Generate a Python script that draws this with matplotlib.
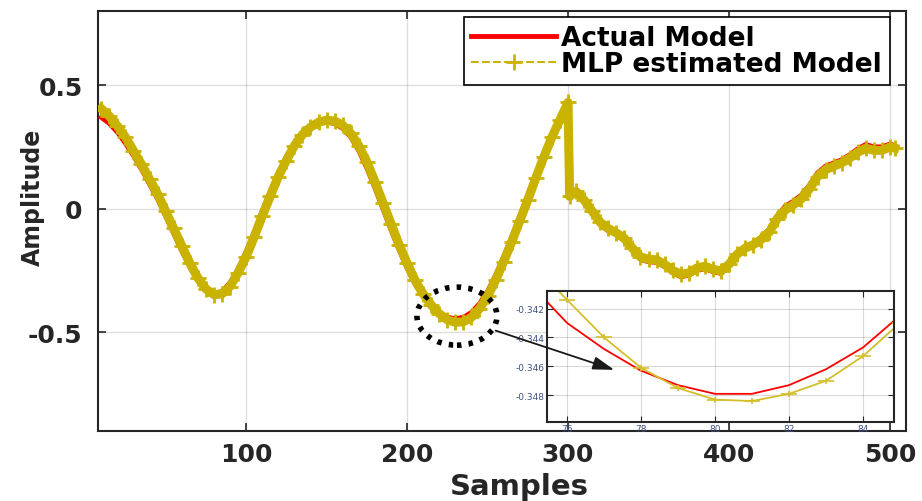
import matplotlib
matplotlib.use('Agg')
import matplotlib.pyplot as plt
from matplotlib.patches import Ellipse
from matplotlib.path import Path

plt.rcParams['font.family'] = 'DejaVu Sans'
plt.rcParams['font.weight'] = 'bold'
plt.rcParams['axes.labelweight'] = 'bold'
plt.rcParams['axes.unicode_minus'] = False

# echantillons (axe x)
echantillons = [10, 15, 20, 25, 30, 35, 40, 45, 50, 55, 60, 65, 70, 75, 80, 85, 90, 95,
                100, 105, 110, 115, 120, 125, 130, 135, 140, 145, 150, 155, 160, 165, 170, 175,
                180, 185, 190, 195, 200, 205, 210, 215, 220, 225, 230, 235, 240, 245, 250, 255,
                260, 265, 270, 275, 280, 285, 290, 295, 300,
                301, 305, 310, 315, 320, 325, 330, 335, 340, 345, 350, 355, 360, 365, 370, 375,
                380, 385, 390, 395, 400, 405, 410, 415, 420, 425, 430, 435, 440, 445, 450, 455,
                460, 465, 470, 475, 480, 485, 490, 495, 500, 503]

# modele reel
modele_reel = [0.37, 0.345, 0.31, 0.265, 0.215, 0.16, 0.10, 0.04, -0.03, -0.10, -0.17, -0.235,
               -0.29, -0.33, -0.345, -0.335, -0.30, -0.245, -0.175, -0.095, -0.01, 0.07, 0.145,
               0.21, 0.265, 0.305, 0.33, 0.345, 0.35, 0.345, 0.325, 0.29, 0.235, 0.165, 0.085,
               0.0, -0.085, -0.165, -0.24, -0.305, -0.355, -0.395, -0.425, -0.44, -0.445, -0.44,
               -0.42, -0.385, -0.335, -0.27, -0.195, -0.115, -0.03, 0.055, 0.14, 0.22, 0.29,
               0.345, 0.39,
               0.085, 0.065, 0.025, -0.02, -0.065, -0.09, -0.105, -0.13, -0.17, -0.205, -0.215,
               -0.217, -0.235, -0.26, -0.275, -0.27, -0.25, -0.243, -0.255, -0.262, -0.235,
               -0.19, -0.16, -0.14, -0.115, -0.083, -0.028, 0.01, 0.03, 0.055, 0.095, 0.145,
               0.172, 0.185, 0.198, 0.218, 0.242, 0.26, 0.25, 0.25, 0.262, 0.255]

# modele estime par le MLP
modele_mlp = [0.405, 0.375, 0.335, 0.29, 0.235, 0.18, 0.12, 0.06, -0.01, -0.08, -0.15, -0.22,
              -0.28, -0.325, -0.348, -0.345, -0.315, -0.26, -0.195, -0.115, -0.03, 0.05, 0.13,
              0.195, 0.255, 0.30, 0.33, 0.35, 0.358, 0.355, 0.338, 0.305, 0.255, 0.19, 0.11,
              0.025, -0.06, -0.145, -0.22, -0.29, -0.345, -0.39, -0.425, -0.45, -0.46, -0.458,
              -0.44, -0.405, -0.355, -0.29, -0.215, -0.135, -0.05, 0.035, 0.125, 0.21, 0.29,
              0.36, 0.43,
              0.05, 0.07, 0.035, -0.01, -0.055, -0.08, -0.098, -0.12, -0.16, -0.195, -0.205,
              -0.207, -0.225, -0.25, -0.265, -0.26, -0.24, -0.233, -0.245, -0.252, -0.225,
              -0.185, -0.16, -0.146, -0.125, -0.095, -0.04, -0.005, 0.016, 0.04, 0.08, 0.13,
              0.158, 0.172, 0.185, 0.205, 0.228, 0.245, 0.236, 0.236, 0.25, 0.245]

# zoom (encart)
zoom_x = [75, 76, 77, 78, 79, 80, 81, 82, 83, 84, 85]
zoom_reel = [-0.3403, -0.3430, -0.3448, -0.3463, -0.3473, -0.3479, -0.3479, -0.3473,
             -0.3462, -0.3447, -0.3425]
zoom_mlp = [-0.3388, -0.3414, -0.3440, -0.3461, -0.3475, -0.3483, -0.3484, -0.3479,
            -0.3470, -0.3453, -0.3430]

ROUGE = '#ff0000'
JAUNE = '#c9b300'
GRIS = '#262626'

fig = plt.figure(figsize=(9.22, 5.02), dpi=100)
ax = fig.add_axes([0.1063, 0.1394, 0.8764, 0.8366])

ax.plot(echantillons, modele_reel, color=ROUGE, lw=3.5, label='Actual Model', zorder=3)
ax.plot(echantillons, modele_mlp, color=JAUNE, lw=6.5, zorder=4)
ax.plot(echantillons, modele_mlp, color=JAUNE, lw=1.5, ls='--', marker='+', ms=11, mew=2,
        label='MLP estimated Model', zorder=5)

ax.set_xlim(8, 510)
ax.set_ylim(-0.9, 0.8)
ax.set_xticks([100, 200, 300, 400, 500])
ax.set_yticks([-0.5, 0, 0.5])
ax.set_yticklabels(['-0.5', '0', '0.5'])
ax.grid(True, color='#000000', alpha=0.13, lw=1)
ax.tick_params(direction='in', top=True, right=True, length=6, width=1.2, colors=GRIS,
               labelsize=18)
ax.tick_params(axis='x', pad=8)
ax.tick_params(axis='y', pad=11)
for s in ax.spines.values():
    s.set_color(GRIS)
    s.set_linewidth(1.5)

ax.set_xlabel('Samples', fontsize=21, fontweight='bold', color=GRIS)
ax.xaxis.set_label_coords(0.521, -0.0976)
ax.set_ylabel('Amplitude', fontsize=17, fontweight='bold', color=GRIS)
ax.yaxis.set_label_coords(-0.066, 0.558)

leg = ax.legend(loc='upper right', bbox_to_anchor=(0.980, 0.9857), fontsize=19,
                handlelength=3.2, handletextpad=0.2, borderpad=0.3, labelspacing=0.0,
                borderaxespad=0, fancybox=False, framealpha=1, edgecolor='black')
leg.get_frame().set_linewidth(1.2)
for t in leg.get_texts():
    t.set_color('black')

# cercle en pointille autour du minimum
cercle = Ellipse((231, -0.435), 49.7, 0.235, fill=False, ec='black', lw=4,
                 ls=(0, (0.8, 1.3)), zorder=6)
ax.add_patch(cercle)

# encart
axin = fig.add_axes([0.593, 0.157, 0.377, 0.261])
plus_plat = Path([(-1, 0), (1, 0), (0, -0.35), (0, 0.35)],
                 [Path.MOVETO, Path.LINETO, Path.MOVETO, Path.LINETO])
axin.plot(zoom_x, zoom_reel, color=ROUGE, lw=1.3)
axin.plot(zoom_x, zoom_mlp, color='#d4bf2a', lw=1.3, marker=plus_plat, ms=11, mew=1.2)
axin.set_xlim(75.45, 84.85)
axin.set_ylim(-0.34986, -0.3408)
axin.set_xticks([76, 78, 80, 82, 84])
axin.set_yticks([-0.348, -0.346, -0.344, -0.342])
axin.set_xticklabels(['76', '78', '80', '82', '84'])
axin.set_yticklabels(['-0.348', '-0.346', '-0.344', '-0.342'])
axin.grid(True, color='#000000', alpha=0.15, lw=0.8)
axin.tick_params(direction='in', top=True, right=True, length=4, colors=GRIS,
                 labelsize=6.5, labelcolor='#3d5080', pad=1.5)
for t in axin.get_xticklabels() + axin.get_yticklabels():
    t.set_fontweight('normal')
for s in axin.spines.values():
    s.set_color(GRIS)
    s.set_linewidth(1.5)

# fleche vers l'encart
axin.annotate('', xy=(330.4, -0.656), xycoords=ax.transData,
              xytext=(253.4, -0.49), textcoords=ax.transData,
              arrowprops=dict(arrowstyle='-|>,head_length=1.3,head_width=0.4',
                              color='#1a1a1a', lw=1.3),
              annotation_clip=False)

fig.savefig('out.png', dpi=100)
